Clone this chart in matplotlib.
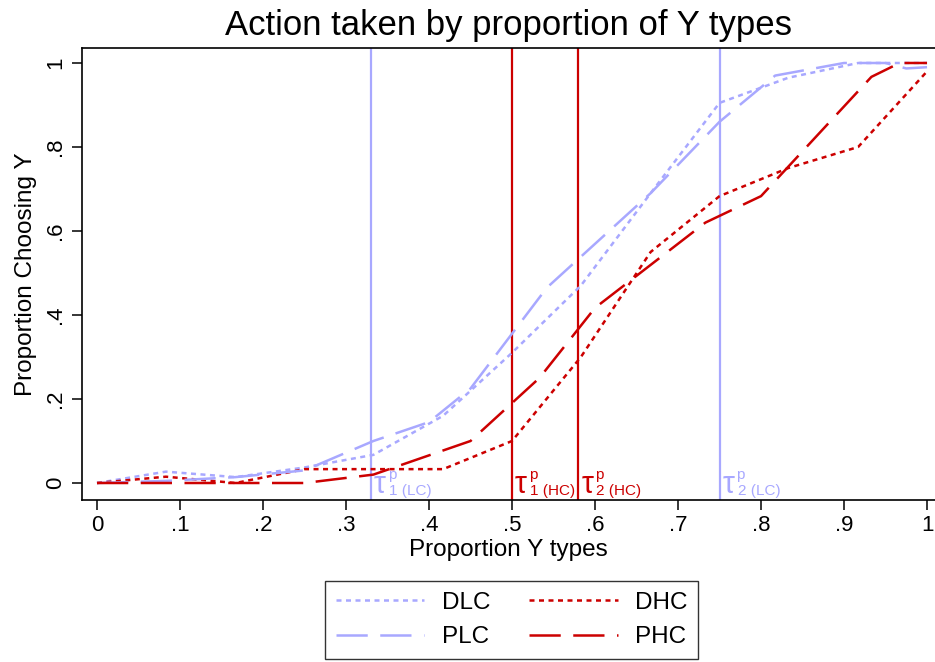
import matplotlib
matplotlib.use("Agg")
import matplotlib.pyplot as plt

plt.rcParams['font.family'] = ['Liberation Sans', 'DejaVu Sans']

title = "Action taken by proportion of Y types"
xlabel = "Proportion Y types"
ylabel = "Proportion Choosing Y"

# Series (x = proportion of Y types, y = proportion choosing Y)
dlc_x = [0, 0.083, 0.167, 0.25, 0.333, 0.417, 0.5, 0.583, 0.667, 0.75, 0.833, 0.917, 1.0]
dlc_y = [0, 0.027, 0.014, 0.037, 0.067, 0.16, 0.31, 0.47, 0.69, 0.905, 0.965, 1.0, 1.0]

plc_x = [0, 0.083, 0.167, 0.25, 0.333, 0.4, 0.45, 0.542, 0.667, 0.75, 0.817, 0.9, 0.95, 0.975, 1.0]
plc_y = [0, 0.005, 0.014, 0.03, 0.1, 0.145, 0.225, 0.465, 0.69, 0.86, 0.97, 1.0, 1.0, 0.987, 0.99]

dhc_x = [0, 0.083, 0.167, 0.25, 0.333, 0.417, 0.5, 0.583, 0.667, 0.75, 0.833, 0.917, 1.0]
dhc_y = [0, 0.015, 0.0, 0.033, 0.033, 0.033, 0.1, 0.3, 0.55, 0.683, 0.75, 0.8, 0.98]

phc_x = [0, 0.25, 0.333, 0.45, 0.533, 0.6, 0.733, 0.8, 0.933, 0.967, 1.0]
phc_y = [0, 0, 0.02, 0.1, 0.25, 0.417, 0.62, 0.683, 0.967, 1.0, 1.0]

# Thresholds
thr_x = [0.33, 0.5, 0.58, 0.75]
thr_sub = ['1 (LC)', '1 (HC)', '2 (HC)', '2 (LC)']
thr_sup = ['p', 'p', 'p', 'p']
thr_group = ['LC', 'HC', 'HC', 'LC']

xticks = [0, 0.1, 0.2, 0.3, 0.4, 0.5, 0.6, 0.7, 0.8, 0.9, 1.0]
xticklabels = ['0', '.1', '.2', '.3', '.4', '.5', '.6', '.7', '.8', '.9', '1']
yticks = [0, 0.2, 0.4, 0.6, 0.8, 1.0]
yticklabels = ['0', '.2', '.4', '.6', '.8', '1']

blue = '#A8A8FF'
red = '#CC0000'
colors = {'LC': blue, 'HC': red}

fig = plt.figure(figsize=(9.35, 6.62), dpi=100)
ax = fig.add_axes([0.0874, 0.2447, 0.9126, 0.6828])

lw = 1.8
short = (0, (2.0, 1.8))
longd = (0, (12.5, 5.0))

for x, lab in zip(thr_x, thr_group):
    ax.axvline(x, color=colors[lab], lw=1.6, zorder=1)

ax.plot(dlc_x, dlc_y, color=blue, lw=lw, linestyle=short, label='DLC', zorder=2)
ax.plot(dhc_x, dhc_y, color=red, lw=lw, linestyle=short, label='DHC', zorder=2)
ax.plot(plc_x, plc_y, color=blue, lw=lw, linestyle=longd, label='PLC', zorder=2)
ax.plot(phc_x, phc_y, color=red, lw=lw, linestyle=longd, label='PHC', zorder=2)

for x, sub, sup, g in zip(thr_x, thr_sub, thr_sup, thr_group):
    c = colors[g]
    ax.annotate('\u03c4', xy=(x, 0), xycoords='data', xytext=(3, -10),
                textcoords='offset pixels', fontsize=22, color=c,
                ha='left', va='baseline', zorder=3)
    ax.annotate(sup, xy=(x, 0), xycoords='data', xytext=(17, 4),
                textcoords='offset pixels', fontsize=11, color=c,
                ha='left', va='baseline', zorder=3)
    ax.annotate(sub, xy=(x, 0), xycoords='data', xytext=(18, -12),
                textcoords='offset pixels', fontsize=11, color=c,
                ha='left', va='baseline', zorder=3)

ax.set_xlim(-0.0184, 1.0096)
ax.set_ylim(-0.0405, 1.0357)
ax.set_xticks(xticks)
ax.set_xticklabels(xticklabels, fontsize=16)
ax.set_yticks(yticks)
ax.set_yticklabels(yticklabels, fontsize=16, rotation=90, va='center')
ax.tick_params(direction='out', length=7, width=1.1, colors='black', pad=4)
for s in ['left', 'bottom', 'top']:
    ax.spines[s].set_linewidth(1.2)
ax.spines['right'].set_visible(False)

ax.set_xlabel(xlabel, fontsize=17.5, labelpad=2)
ax.set_ylabel(ylabel, fontsize=17.5, labelpad=6)
ax.set_title(title, fontsize=25, pad=9)

handles, labels = ax.get_legend_handles_labels()
order = [0, 2, 1, 3]
leg = fig.legend([handles[i] for i in order], [labels[i] for i in order],
                 loc='center', bbox_to_anchor=(0.547, 0.0634), ncol=2,
                 fontsize=17.5, frameon=True, fancybox=False, edgecolor='black',
                 handlelength=3.65, handletextpad=0.7, columnspacing=1.6,
                 labelspacing=0.5, borderpad=0.45)
leg.get_frame().set_linewidth(1.0)

fig.savefig('out.png', dpi=100)
